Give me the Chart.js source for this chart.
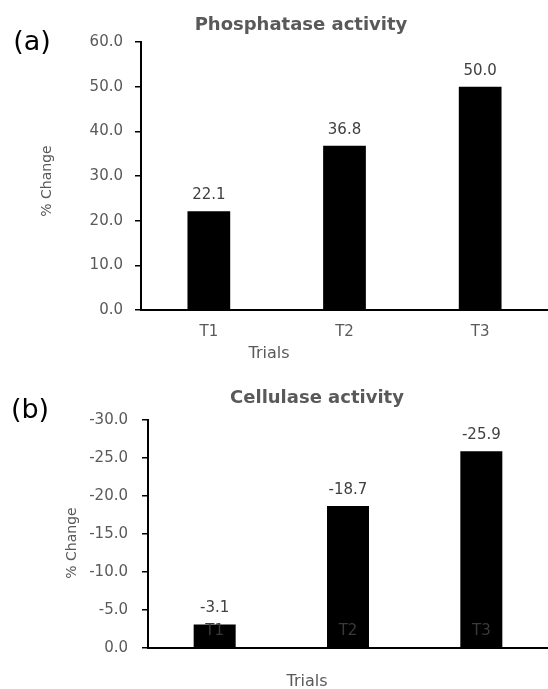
<!DOCTYPE html>
<html><head><meta charset="utf-8">
<script src="https://cdn.jsdelivr.net/npm/chart.js@4"></script>
<style>
html,body{margin:0;padding:0;background:#fff;width:548px;height:689px;overflow:hidden}
canvas{position:absolute;left:0;display:block}
#ca{top:0}
#cb{top:365px}
</style></head><body>
<canvas id="ca" width="548" height="365"></canvas>
<canvas id="cb" width="548" height="324"></canvas>
<script>
// ---- data ----
const trials = ['T1', 'T2', 'T3'];
const phosphataseChange = [22.1, 36.8, 50.0];
const cellulaseChange = [-3.1, -18.7, -25.9];
const phosphataseTicks = [0, 10, 20, 30, 40, 50, 60];
const cellulaseTicks = [-30, -25, -20, -15, -10, -5, 0];
const panelTitles = ['Phosphatase activity', 'Cellulase activity'];
const panelLetters = ['(a)', '(b)'];
const yTitle = '% Change';
const xTitle = 'Trials';

const FONT = "'DejaVu Sans', sans-serif";
const GREY = '#595959';

const annotate = {
  id: 'annotate',
  afterDatasetsDraw(chart, args, o) {
    const ctx = chart.ctx;
    const meta = chart.getDatasetMeta(0);
    const vals = chart.data.datasets[0].data;
    ctx.save();
    ctx.textAlign = 'center';
    ctx.textBaseline = 'middle';
    ctx.font = '15px ' + FONT;
    ctx.fillStyle = '#404040';
    meta.data.forEach((el, i) => ctx.fillText(vals[i].toFixed(1), el.x, el.y - o.gap));
    if (o.innerLabels) {
      const xs = chart.scales.x;
      ctx.fillStyle = '#3a3a3a';
      chart.data.labels.forEach((lab, i) => ctx.fillText(lab, xs.getPixelForTick(i), xs.top - o.innerLabels));
    }
    ctx.restore();
  },
  afterDraw(chart, args, o) {
    const ctx = chart.ctx;
    ctx.save();
    ctx.textAlign = 'center';
    ctx.textBaseline = 'middle';
    ctx.fillStyle = GREY;
    ctx.font = 'bold 18px ' + FONT;
    ctx.fillText(o.title, o.titlePos[0], o.titlePos[1]);
    ctx.font = '16px ' + FONT;
    ctx.fillText(o.xTitle, o.xTitlePos[0], o.xTitlePos[1]);
    ctx.fillStyle = '#000';
    ctx.font = '27px ' + FONT;
    ctx.fillText(o.letter, o.letterPos[0], o.letterPos[1]);
    ctx.fillStyle = GREY;
    ctx.font = '14px ' + FONT;
    ctx.translate(o.yTitlePos[0], o.yTitlePos[1]);
    ctx.rotate(-Math.PI / 2);
    ctx.fillText(o.yTitle, 0, 0);
    ctx.restore();
  }
};

function makeChart(id, values, tickVals, reverse, cfg) {
  return new Chart(document.getElementById(id), {
    type: 'bar',
    data: {
      labels: trials,
      datasets: [{
        data: values,
        backgroundColor: '#000000',
        borderWidth: 0,
        barPercentage: 0.315,
        categoryPercentage: 1.0
      }]
    },
    plugins: [annotate],
    options: {
      responsive: false,
      animation: false,
      devicePixelRatio: 1,
      layout: { padding: { top: cfg.padTop, left: 0, right: 0, bottom: 0 } },
      plugins: {
        legend: { display: false },
        title: { display: false },
        tooltip: { enabled: false },
        annotate: cfg.annot
      },
      scales: {
        x: {
          grid: { display: false, drawTicks: false },
          border: { display: true, color: '#000', width: 2 },
          ticks: { display: cfg.xTicks, color: GREY, font: { family: FONT, size: 15 }, padding: 13 },
          afterFit: s => { s.height = cfg.xHeight; }
        },
        y: {
          reverse: reverse,
          min: Math.min(...tickVals),
          max: Math.max(...tickVals),
          grid: { drawOnChartArea: false, drawTicks: true, tickLength: 6, color: '#000', lineWidth: 1.5 },
          border: { display: true, color: '#000', width: 2 },
          ticks: {
            color: GREY, font: { family: FONT, size: 15 }, padding: cfg.yPad, autoSkip: false,
            callback: v => Number(v).toFixed(1)
          },
          afterBuildTicks: s => { s.ticks = tickVals.map(v => ({ value: v })); },
          afterFit: s => { s.width = cfg.yWidth; }
        }
      }
    }
  });
}

makeChart('ca', phosphataseChange, phosphataseTicks, false, {
  padTop: 42, xHeight: 55, yWidth: 141, yPad: 12, xTicks: true,
  annot: {
    gap: 16, title: panelTitles[0], titlePos: [301, 25],
    letter: panelLetters[0], letterPos: [32, 43],
    yTitle: yTitle, yTitlePos: [47, 181],
    xTitle: xTitle, xTitlePos: [269, 354]
  }
});

makeChart('cb', cellulaseChange, cellulaseTicks, true, {
  padTop: 55, xHeight: 41, yWidth: 148, yPad: 14, xTicks: false,
  annot: {
    gap: 16, innerLabels: 17, title: panelTitles[1], titlePos: [317, 33],
    letter: panelLetters[1], letterPos: [30, 46],
    yTitle: yTitle, yTitlePos: [72, 178],
    xTitle: xTitle, xTitlePos: [307, 317]
  }
});
</script>
</body></html>
